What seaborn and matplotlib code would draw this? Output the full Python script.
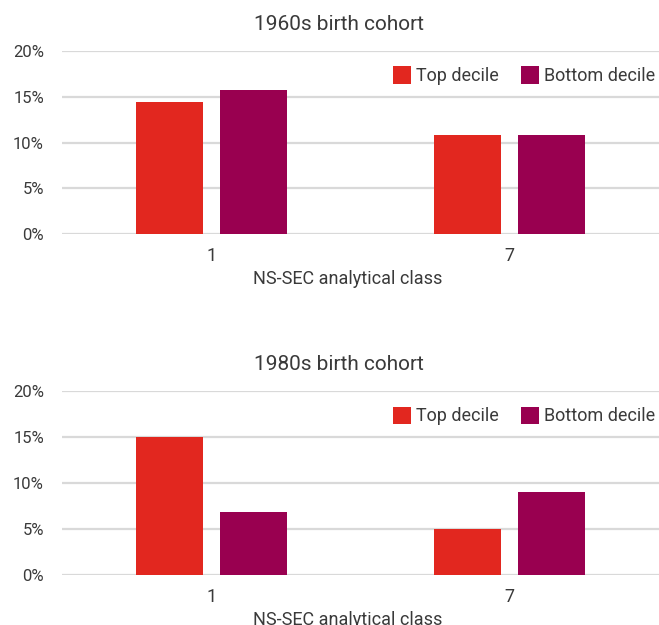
import matplotlib
matplotlib.use("Agg")
import matplotlib.pyplot as plt
import seaborn as sns
import pandas as pd
from matplotlib.ticker import PercentFormatter

classes = ["1", "7"]
series = ["Top decile", "Bottom decile"]
top_1960s = [0.144, 0.108]
bottom_1960s = [0.157, 0.108]
top_1980s = [0.150, 0.050]
bottom_1980s = [0.068, 0.090]
titles = ["1960s birth cohort", "1980s birth cohort"]
yticks = [0, 0.05, 0.10, 0.15, 0.20]
xlabel = "NS-SEC analytical class"
colors = ["#E2271F", "#990050"]

sns.set_theme(style="white")
plt.rcParams["font.family"] = ["Roboto", "DejaVu Sans"]
TXT = "#3A3A3A"

def frame(top, bottom):
    rows = []
    for c, v in zip(classes, top):
        rows.append({"cls": c, "series": series[0], "value": v})
    for c, v in zip(classes, bottom):
        rows.append({"cls": c, "series": series[1], "value": v})
    return pd.DataFrame(rows)

fig = plt.figure(figsize=(6.59, 6.25), dpi=100)
axes = [fig.add_axes([62/659, 1-234/625, 1-62/659, 183/625]),
        fig.add_axes([62/659, 1-575/625, 1-62/659, 184/625])]
data = [(top_1960s, bottom_1960s), (top_1980s, bottom_1980s)]

for ax, (t, b), title in zip(axes, data, titles):
    df = frame(t, b)
    sns.barplot(data=df, x="cls", y="value", hue="series", order=classes,
                hue_order=series, palette=colors, width=0.563, gap=0.2,
                saturation=1, ax=ax, errorbar=None, linewidth=0)
    ax.set_ylim(0, 0.2)
    ax.set_yticks(yticks)
    ax.yaxis.set_major_formatter(PercentFormatter(1.0, decimals=0))
    ax.grid(axis="y", color="#D9D9D9", linewidth=1.6)
    ax.set_axisbelow(True)
    for s in ax.spines.values():
        s.set_visible(False)
    ax.tick_params(axis="x", length=0, labelsize=13, colors=TXT, pad=9)
    ax.tick_params(axis="y", length=0, labelsize=12, colors=TXT, pad=13)
    ax.set_xlabel(xlabel, fontsize=13, color=TXT, labelpad=4, x=0.479)
    ax.set_ylabel("")
    ax.set_title(title, fontsize=15, color=TXT, pad=15, x=0.464)
    ax.set_xlim(-0.5, 1.5)
    ax.legend(loc="upper right", bbox_to_anchor=(1.006, 0.955), ncol=2, frameon=False,
              fontsize=13, handlelength=1.0, handleheight=1.1, handletextpad=0.3,
              columnspacing=1.2, borderaxespad=0)
    for txt in ax.get_legend().get_texts():
        txt.set_color(TXT)

fig.savefig("out.png", dpi=100)
